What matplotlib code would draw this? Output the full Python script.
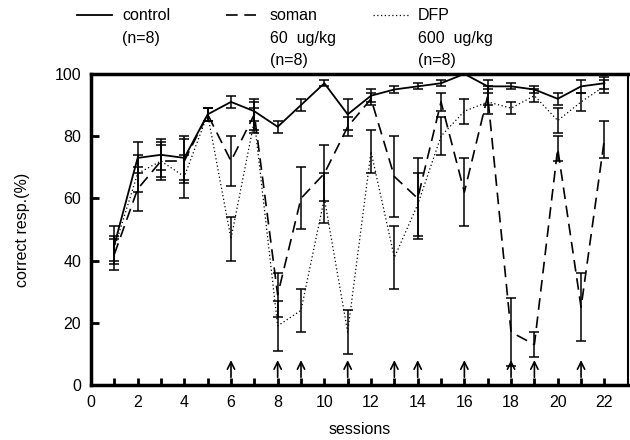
import matplotlib
matplotlib.use("Agg")
import matplotlib.pyplot as plt
import numpy as np

plt.rcParams['font.family'] = ['Liberation Sans', 'DejaVu Sans']

sessions = list(range(1, 23))
control = [45, 73, 74, 73, 87, 91, 88, 83, 90, 97, 87, 93, 95, 96, 97, 100, 96, 96, 95, 92, 96, 97]
control_err = [6, 5, 5, 7, 2, 2, 3, 2, 2, 1, 5, 2, 1, 1, 1, 0, 2, 1, 1, 2, 2, 2]
soman = [42, 63, 72, 72, 87, 72, 87, 29, 60, 68, 83, 92, 67, 60, 91, 62, 93, 17, 13, 76, 25, 79]
soman_err = [5, 7, 6, 7, 2, 8, 5, 7, 10, 9, 3, 2, 13, 13, 3, 11, 3, 11, 4, 4, 11, 6]
dfp = [44, 68, 72, 67, 87, 47, 85, 19, 24, 60, 17, 75, 41, 58, 80, 88, 91, 89, 93, 85, 91, 96]
dfp_err = [4, 6, 5, 7, 2, 7, 4, 8, 7, 8, 7, 7, 10, 10, 6, 4, 4, 2, 2, 4, 3, 2]
arrow_sessions = [6, 8, 9, 11, 13, 14, 16, 18, 19, 21]

fig = plt.figure(figsize=(6.3, 4.4), dpi=100)
ax = fig.add_axes([0.1444, 0.125, 0.852, 0.707])

kw = dict(color='black', capsize=3.5, elinewidth=1.1, capthick=1.1)
ax.errorbar(sessions, control, yerr=control_err, linestyle='-', linewidth=1.3, **kw)
ax.errorbar(sessions, soman, yerr=soman_err, linestyle=(0, (7, 4)), linewidth=1.2, **kw)
ax.errorbar(sessions, dfp, yerr=dfp_err, linestyle=(0, (1, 2)), linewidth=0.9, **kw)

for s in arrow_sessions:
    ax.annotate('', xy=(s, 8.0), xytext=(s, 2.5),
                arrowprops=dict(arrowstyle='->', color='black', lw=1.2,
                                mutation_scale=13, shrinkA=0, shrinkB=0))

ax.set_xlim(0, 23)
ax.set_ylim(0, 100)
ax.set_xticks(range(0, 23, 2))
ax.set_xticks(range(1, 23), minor=True)
ax.set_yticks(range(0, 101, 20))
ax.tick_params(axis='both', which='both', direction='in', width=2, labelsize=11.5, pad=7)
ax.tick_params(axis='x', which='both', length=5)
ax.tick_params(axis='y', length=6)
for side, lw in [('left', 2.5), ('bottom', 2.5), ('top', 2.5), ('right', 1.5)]:
    ax.spines[side].set_linewidth(lw)
ax.set_xlabel('sessions', fontsize=11.5, labelpad=9)
ax.set_ylabel('correct resp.(%)', fontsize=11.5, labelpad=18)

# legend drawn above the axes
fy1, fy2, fy3 = 1 - 15/440, 1 - 38/440, 1 - 61/440
fig.add_artist(plt.Line2D([77/630, 112/630], [fy1, fy1], color='black', lw=1.3))
fig.add_artist(plt.Line2D([226/630, 258/630], [fy1, fy1], color='black', lw=1.2, linestyle=(0, (7, 4))))
fig.add_artist(plt.Line2D([373/630, 408/630], [fy1, fy1], color='black', lw=0.9, linestyle=(0, (1, 2))))
tk = dict(fontsize=11.5, va='center', ha='left')
fig.text(122/630, fy1, 'control', **tk)
fig.text(122/630, fy2, '(n=8)', **tk)
fig.text(270/630, fy1, 'soman', **tk)
fig.text(270/630, fy2, '60  ug/kg', **tk)
fig.text(270/630, fy3, '(n=8)', **tk)
fig.text(418/630, fy1, 'DFP', **tk)
fig.text(418/630, fy2, '600  ug/kg', **tk)
fig.text(418/630, fy3, '(n=8)', **tk)

fig.savefig('out.png', dpi=100)
